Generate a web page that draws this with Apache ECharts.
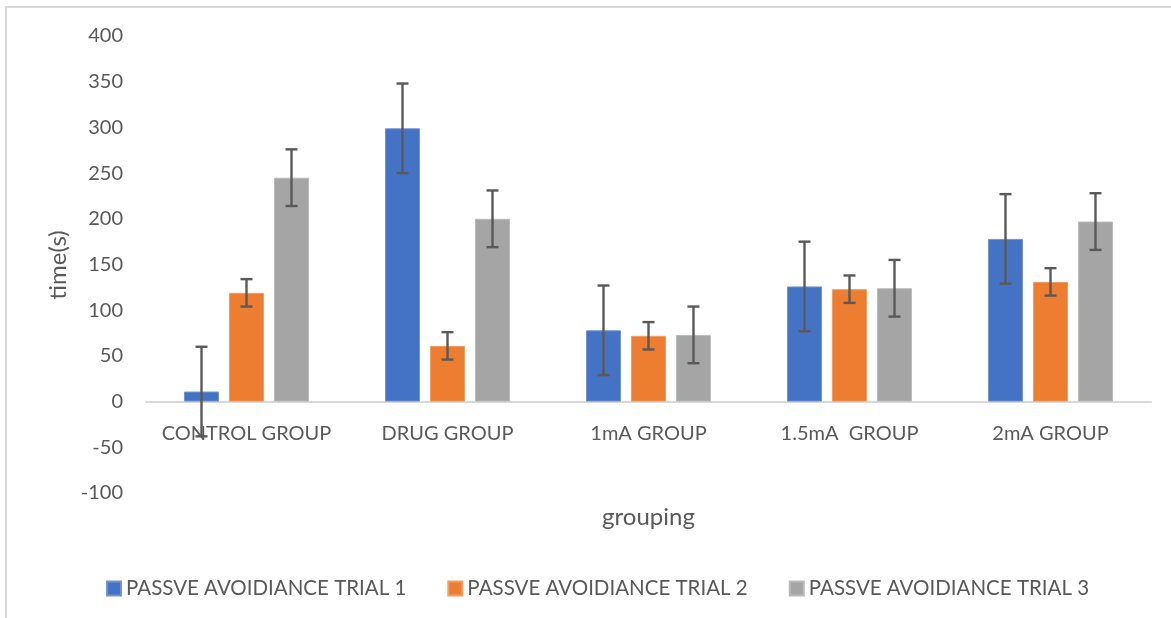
<!DOCTYPE html>
<html>
<head>
<meta charset="utf-8">
<script src="https://cdn.jsdelivr.net/npm/echarts@6/dist/echarts.min.js"></script>
<style>html,body{margin:0;padding:0;background:#fff}#c{width:1171px;height:618px}</style>
</head>
<body>
<div id="c"></div>
<script>
const categories = ['CONTROL GROUP', 'DRUG GROUP', '1mA GROUP', '1.5mA  GROUP', '2mA GROUP'];
const seriesNames = ['PASSVE AVOIDIANCE TRIAL 1', 'PASSVE AVOIDIANCE TRIAL 2', 'PASSVE AVOIDIANCE TRIAL 3'];
const trial1 = [11, 299, 78, 126, 178];
const trial2 = [119, 61, 72, 123, 131];
const trial3 = [245, 200, 73, 124, 197];
const err1 = [49, 49, 49, 49, 49];
const err2 = [15, 15, 15, 15, 15];
const err3 = [31, 31, 31, 31, 31];
const yTitle = 'time(s)';
const xTitle = 'grouping';

const colors = ['#4472C4', '#ED7D31', '#A5A5A5'];
const values = [trial1, trial2, trial3];
const errs = [err1, err2, err3];
const FONT = 'Lato';
const TXT = '#595959';

const chart = echarts.init(document.getElementById('c'), null, {renderer: 'canvas'});

const series = [];
values.forEach((v, i) => {
  series.push({
    name: seriesNames[i],
    type: 'bar',
    data: v,
    barWidth: 35,
    barGap: '28.6%',
    itemStyle: {color: colors[i], borderColor: echarts.color.lift(colors[i], 0.25), borderWidth: 1},
    emphasis: {disabled: true},
    z: 2
  });
});
values.forEach((v, i) => {
  const offset = (i - 1) * 45;
  series.push({
    name: 'err' + i,
    type: 'custom',
    data: v.map((val, k) => [k, val - errs[i][k], val + errs[i][k]]),
    encode: {x: 0, y: [1, 2]},
    z: 5,
    silent: true,
    renderItem: function (params, api) {
      const lo = api.coord([api.value(0), api.value(1)]);
      const hi = api.coord([api.value(0), api.value(2)]);
      const x = lo[0] + offset;
      const cw = 6;
      const st = {stroke: '#595959', lineWidth: 2.4};
      return {
        type: 'group',
        children: [
          {type: 'line', shape: {x1: x, y1: hi[1], x2: x, y2: lo[1]}, style: st},
          {type: 'line', shape: {x1: x - cw, y1: hi[1], x2: x + cw, y2: hi[1]}, style: st},
          {type: 'line', shape: {x1: x - cw, y1: lo[1], x2: x + cw, y2: lo[1]}, style: st}
        ]
      };
    }
  });
});

chart.setOption({
  animation: false,
  textStyle: {fontFamily: FONT},
  graphic: [{
    type: 'rect', silent: true, z: -1,
    shape: {x: 6, y: 7, width: 1300, height: 800},
    style: {fill: 'none', stroke: '#D9D9D9', lineWidth: 2}
  }, {
    type: 'text', silent: true,
    x: 58, y: 265, rotation: Math.PI / 2,
    style: {text: yTitle, fill: TXT, font: '24px Lato', align: 'center', verticalAlign: 'middle'}
  }],
  grid: {left: 146, right: 20, top: 36, bottom: 125, containLabel: false, outerBoundsMode: 'none'},
  legend: {
    data: seriesNames,
    top: 573,
    left: 101,
    icon: 'rect',
    itemWidth: 14,
    itemHeight: 14,
    itemGap: 41,
    textStyle: {color: TXT, fontSize: 20.5, fontFamily: FONT}
  },
  xAxis: {
    type: 'category',
    data: categories,
    name: xTitle,
    nameLocation: 'middle',
    nameGap: 12,
    nameTextStyle: {color: TXT, fontSize: 24, fontFamily: FONT},
    axisLine: {onZero: true, lineStyle: {color: '#D9D9D9', width: 2}},
    axisTick: {show: false},
    axisLabel: {color: TXT, fontSize: 20, margin: -69, fontFamily: FONT, interval: 0}
  },
  yAxis: {
    type: 'value',
    min: -100,
    max: 400,
    interval: 50,
    axisLine: {show: false},
    axisTick: {show: false},
    splitLine: {show: false},
    axisLabel: {color: TXT, fontSize: 20, margin: 23, fontFamily: FONT}
  },
  series: series
});
</script>
</body>
</html>
